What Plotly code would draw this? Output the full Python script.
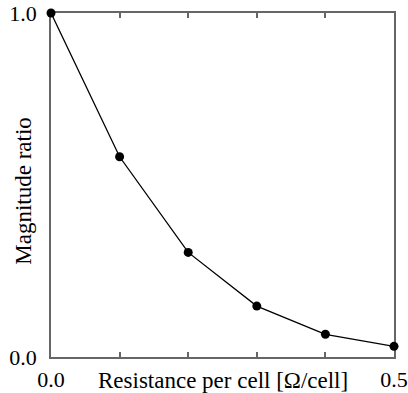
import plotly.graph_objects as go

resistance = [0.0, 0.1, 0.2, 0.3, 0.4, 0.5]
magnitude_ratio = [1.0, 0.582, 0.304, 0.148, 0.066, 0.031]
x_tick_vals = [0.0, 0.1, 0.2, 0.3, 0.4, 0.5]
x_tick_text = ["0.0", "", "", "", "", "0.5"]
y_tick_vals = [0.0, 1.0]
y_tick_text = ["0.0", "1.0"]

W, H = 408, 393
L, R, T, B = 51, 13.5, 13, 36.3
ph = H - T - B

fig = go.Figure()
fig.add_trace(go.Scatter(
    x=resistance, y=magnitude_ratio, mode="lines+markers",
    line=dict(color="black", width=1.3),
    marker=dict(color="black", size=9),
    cliponaxis=False, showlegend=False,
))

family = "Liberation Serif, Times New Roman, serif"
tfont = dict(family=family, size=22, color="black")
afont = dict(family=family, size=23, color="black")
axcol = "#666666"

fig.update_layout(
    width=W, height=H, margin=dict(l=L, r=R, t=T, b=B, autoexpand=False),
    paper_bgcolor="white", plot_bgcolor="white",
    font=tfont,
    xaxis=dict(range=[0, 0.5], tickvals=x_tick_vals, ticktext=x_tick_text,
               ticks="inside", ticklen=5, tickwidth=1.5, tickcolor=axcol,
               showline=True, linecolor=axcol, linewidth=1.5, mirror="ticks",
               showgrid=False, zeroline=False, ticklabelstandoff=2,
               automargin=False, tickfont=tfont, layer="below traces"),
    yaxis=dict(range=[0, 1], tickvals=y_tick_vals, ticktext=y_tick_text,
               ticks="", showline=True, linecolor=axcol, linewidth=1.5, mirror=True,
               showgrid=False, zeroline=False, ticklabelstandoff=8,
               automargin=False, tickfont=tfont, layer="below traces"),
    annotations=[
        dict(text="Resistance per cell [Ω/cell]", xref="paper", yref="paper",
             x=0.5, y=(T + ph - 380) / ph, xanchor="center", yanchor="middle",
             showarrow=False, font=afont),
        dict(text="Magnitude ratio", xref="paper", yref="paper",
             x=(24 - L) / (W - L - R), y=(T + ph - 190.5) / ph, textangle=-90,
             xanchor="center", yanchor="middle", showarrow=False, font=afont),
    ],
)

fig.write_html("out.html")
